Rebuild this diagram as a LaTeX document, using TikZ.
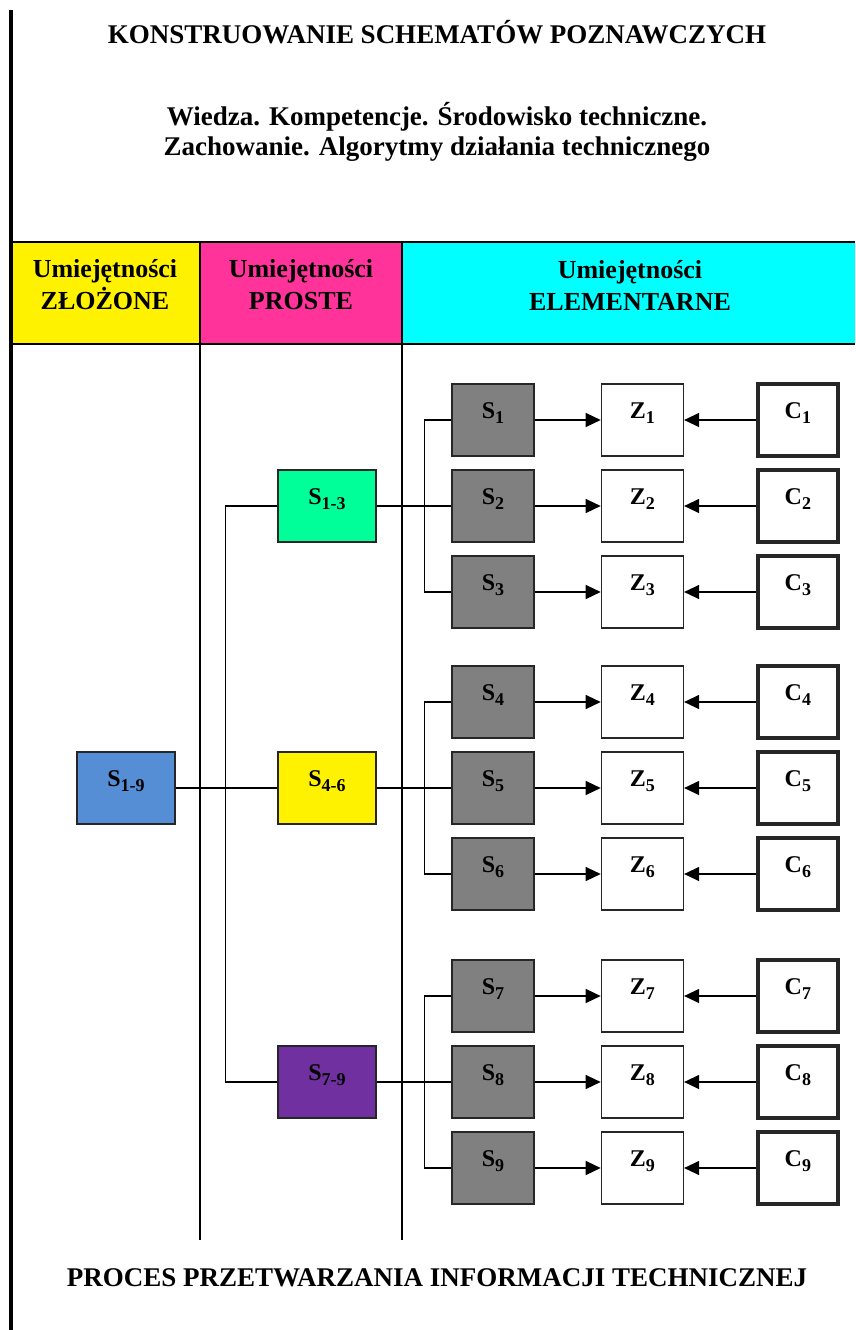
\documentclass[tikz,border=0pt]{standalone}
\usepackage{fontspec}
\setmainfont{Liberation Serif}
\usepackage{tikz}
\usetikzlibrary{arrows.meta,positioning}

\definecolor{skyblue}{HTML}{558ED5}
\definecolor{mint}{HTML}{00FF99}
\definecolor{plum}{HTML}{7030A0}
\definecolor{rose}{HTML}{FF3399}
\definecolor{aqua}{HTML}{00FFFF}

\newcommand\idx[1]{\raisebox{-5.5pt}{\fontsize{18}{18}\selectfont#1}}

\begin{document}
\begin{tikzpicture}[x=1pt, y=-1pt,
      title/.style={font=\fontsize{27}{30}\selectfont\bfseries, align=center},
      head/.style={font=\fontsize{26}{32}\selectfont\bfseries, align=center},
      box/.style={draw=black!85, line width=1.4pt, minimum width=82pt,
        minimum height=72pt, inner sep=0pt, text height=0pt, text depth=4pt,
        font=\fontsize{24}{24}\selectfont\bfseries},
      skill/.style={box, minimum width=98pt},
      basic/.style={box, fill=black!50},
      goal/.style={box, fill=white},
      cond/.style={box, fill=white, line width=3.5pt, minimum width=80pt},
      link/.style={line width=1.3pt, draw=black},
      arrow/.style={link, -{Triangle[length=15pt, width=14pt]}}
    ]
    \useasboundingbox (0,0) rectangle (855,1330);

    \fill[yellow] (10,242) rectangle (200,344);
    \fill[rose] (200,242) rectangle (402,344);
    \fill[aqua] (402,242) rectangle (855,344);
    \draw[line width=4pt] (10.5,10) -- (10.5,1330);
    \draw[link, line width=2pt] (10,242) -- (855,242) (10,344) -- (855,344);
    \draw[link] (200,242) -- (200,1240) (402,242) -- (402,1240);

    \node[title, anchor=base] (title) at (437,44)
      {KONSTRUOWANIE SCHEMATÓW POZNAWCZYCH};
    \node[title] (subtitle) at (437,132)
      {Wiedza. Kompetencje. Środowisko techniczne.\\
       Zachowanie. Algorytmy działania technicznego};
    \node[title, anchor=base] (process) at (437,1286)
      {PROCES PRZETWARZANIA INFORMACJI TECHNICZNEJ};

    \node[head] (complex) at (105,285) {Umiejętności\\ZŁOŻONE};
    \node[head] (simple) at (301,285) {Umiejętności\\PROSTE};
    \node[head] (elementary) at (630,285) {Umiejętności\\ELEMENTARNE};

    \node[skill, fill=skyblue] (s19) at (126,788) {S\idx{1-9}};
    \node[skill, fill=mint] (s13) at (327,506) {S\idx{1-3}};
    \node[skill, fill=yellow] (s46) at (327,788) {S\idx{4-6}};
    \node[skill, fill=plum] (s79) at (327,1082) {S\idx{7-9}};

    \foreach \i/\y in {1/420,2/506,3/592,4/702,5/788,6/874,7/996,8/1082,9/1168} {
      \node[basic] (s\i) at (493,\y) {S\idx{\i}};
      \node[goal, right=66pt of s\i] (z\i) {Z\idx{\i}};
      \node[cond, right=72pt of z\i] (c\i) {C\idx{\i}};
      \draw[arrow] (s\i) -- (z\i);
      \draw[arrow] (c\i) -- (z\i);
    }

    \draw[link] (s19) -- (s46);
    \draw[link] (s13.west) -- ++(-52,0) |- (s79.west);
    \draw[link] (s13) -- (s2);
    \draw[link] (s46) -- (s5);
    \draw[link] (s79) -- (s8);
    \draw[link] (s1.west) -- ++(-27,0) |- (s3.west);
    \draw[link] (s4.west) -- ++(-27,0) |- (s6.west);
    \draw[link] (s7.west) -- ++(-27,0) |- (s9.west);
  \end{tikzpicture}
\end{document}
